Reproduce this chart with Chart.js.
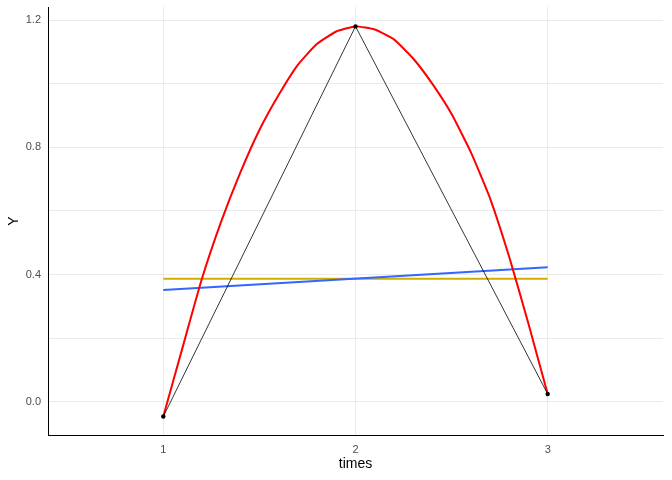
<!DOCTYPE html>
<html>
<head>
<meta charset="utf-8">
<script src="https://cdn.jsdelivr.net/npm/chart.js@4"></script>
<style>
  html, body { margin: 0; padding: 0; background: #fff; }
  #wrap { width: 672px; height: 480px; }
</style>
</head>
<body>
<div id="wrap"><canvas id="chart" width="672" height="480"></canvas></div>
<script>
// observed points
const times = [1, 2, 3];
const obsY = [-0.047, 1.181, 0.024];

// smooth curve (red)
const smoothX = [1.0, 1.1, 1.2, 1.3, 1.4, 1.5, 1.6, 1.7, 1.8, 1.9, 2.0,
                 2.1, 2.2, 2.3, 2.4, 2.5, 2.6, 2.7, 2.8, 2.9, 3.0];
const smoothY = [-0.047, 0.17, 0.385, 0.565, 0.72, 0.855, 0.965, 1.06, 1.126, 1.165, 1.181,
                 1.171, 1.14, 1.08, 1.0, 0.905, 0.785, 0.64, 0.455, 0.245, 0.024];

// linear fit (blue) and mean (yellow)
const fitX = [1, 3];
const fitY = [0.351, 0.423];
const meanY = [0.387, 0.387];

// axis ticks
const xTicks = [1, 2, 3];
const yGrid = [0, 0.2, 0.4, 0.6, 0.8, 1.0, 1.2];
const yLabels = { "0": "0.0", "0.4": "0.4", "0.8": "0.8", "1.2": "1.2" };

const pts = (xs, ys) => xs.map((x, i) => ({ x: x, y: ys[i] }));

const FONT = "'Liberation Sans', Arial, sans-serif";

new Chart(document.getElementById("chart"), {
  type: "line",
  data: {
    datasets: [
      {
        data: pts(times, obsY),
        showLine: false,
        pointRadius: 2.2,
        pointBackgroundColor: "#000",
        pointBorderWidth: 0,
        order: 0
      },
      {
        data: pts(times, obsY),
        borderColor: "#000",
        borderWidth: 0.8,
        pointRadius: 0,
        order: 1
      },
      {
        data: pts(smoothX, smoothY),
        borderColor: "#FF0000",
        borderWidth: 2,
        pointRadius: 0,
        tension: 0.15,
        order: 2
      },
      {
        data: pts(fitX, fitY),
        borderColor: "#3366FF",
        borderWidth: 2,
        pointRadius: 0,
        order: 3
      },
      {
        data: pts(fitX, meanY),
        borderColor: "#D1AE00",
        borderWidth: 2,
        pointRadius: 0,
        order: 4
      }
    ]
  },
  options: {
    responsive: false,
    animation: false,
    layout: { padding: { top: 7, right: 9, left: 0, bottom: 0 } },
    plugins: { legend: { display: false }, tooltip: { enabled: false } },
    scales: {
      x: {
        type: "linear",
        min: 0.4,
        max: 3.6,
        afterBuildTicks: s => { s.ticks = xTicks.map(v => ({ value: v })); },
        afterFit: s => { s.height = 45; s.paddingLeft = 0; s.paddingRight = 0; },
        grid: { color: "#EBEBEB", lineWidth: 1, drawTicks: false },
        border: { display: true, color: "#000", width: 1 },
        ticks: {
          padding: 8,
          color: "#4D4D4D",
          font: { family: FONT, size: 11 },
          callback: v => String(v)
        },
        title: {
          display: true,
          text: "times",
          color: "#000",
          font: { family: FONT, size: 14 },
          padding: { top: 0, bottom: 7 }
        }
      },
      y: {
        type: "linear",
        min: -0.105,
        max: 1.242,
        afterBuildTicks: s => { s.ticks = yGrid.map(v => ({ value: v })); },
        afterFit: s => { s.width = 48; s.paddingTop = 0; s.paddingBottom = 0; },
        grid: { color: "#EBEBEB", lineWidth: 1, drawTicks: false },
        border: { display: true, color: "#000", width: 1 },
        ticks: {
          padding: 7,
          color: "#4D4D4D",
          font: { family: FONT, size: 11 },
          callback: v => yLabels[String(Math.round(v * 10) / 10)] || ""
        },
        title: {
          display: true,
          text: "Y",
          color: "#000",
          font: { family: FONT, size: 14 },
          padding: { top: 6, bottom: 0 }
        }
      }
    }
  }
});
</script>
</body>
</html>
